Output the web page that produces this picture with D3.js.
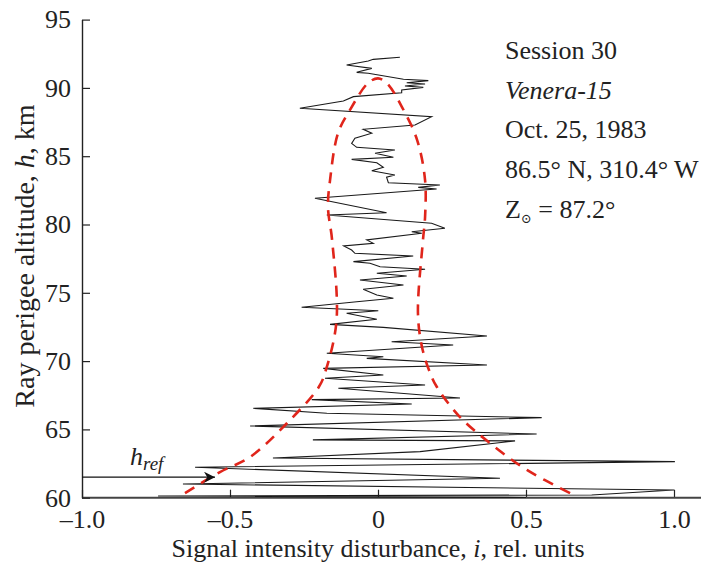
<!DOCTYPE html>
<html>
<head>
<meta charset="utf-8">
<script src="https://cdn.jsdelivr.net/npm/d3@7"></script>
<style>
  body { margin: 0; background: #fff; }
  svg text { font-family: "Liberation Serif", "DejaVu Serif", serif; fill: #222; }
</style>
</head>
<body>
<svg id="chart" width="701" height="566"></svg>
<script>
// axis ticks
var xTicks = [-1, -0.5, 0, 0.5, 1];
var xTickLabels = ['\u20131.0', '\u20130.5', '0', '0.5', '1.0'];
var yTicks = [60, 65, 70, 75, 80, 85, 90, 95];

// measured signal, i (rel. units) against perigee altitude h (km)
var traceI = [0.074, -0.016, -0.033, -0.106, -0.021, -0.072, -0.033, 0.086, 0.170, 0.097,
  0.159, 0.091, 0.153, 0.080, 0.080, -0.083, -0.117, -0.264, 0.181, 0.125,
  -0.050, -0.021, -0.078, -0.089, -0.072, 0.057, -0.010, 0.052, -0.089, -0.004,
  0.018, -0.021, 0.057, 0.029, 0.035, 0.209, 0.136, 0.198, -0.213, 0.029,
  -0.173, 0.181, 0.226, 0.114, 0.148, -0.038, -0.016, -0.116, -0.089, -0.078,
  0.119, -0.083, -0.027, 0.007, 0.159, -0.004, 0.097, -0.061, 0.086, -0.050,
  -0.004, 0.052, -0.072, -0.258, 0.001, -0.106, -0.004, -0.162, 0.018, 0.368,
  0.046, 0.254, -0.173, 0.018, -0.038, 0.368, -0.185, 0.018, -0.179, 0.159,
  -0.134, 0.277, -0.224, 0.114, -0.421, -0.173, 0.553, -0.432, 0.536, -0.220,
  0.463, 0.142, -0.355, 1.003, -0.618, 0.412, -0.659, 1.0, 0.722, -0.743, 0.5];
var traceH = [92.24, 92.09, 91.97, 91.68, 91.43, 91.14, 91.07, 90.63, 90.53, 90.38,
  90.29, 90.14, 90.04, 89.85, 89.65, 89.36, 89.04, 88.51, 87.89, 87.28,
  86.97, 86.68, 86.31, 85.94, 85.65, 85.45, 85.21, 84.92, 84.77, 84.52,
  84.19, 83.94, 83.62, 83.46, 83.06, 82.89, 82.72, 82.60, 81.92, 80.86,
  80.70, 80.09, 79.72, 79.47, 79.36, 78.87, 78.62, 78.43, 78.13, 77.89,
  77.69, 77.28, 77.16, 76.91, 76.72, 76.43, 76.23, 75.94, 75.57, 75.26,
  74.84, 74.60, 74.35, 73.94, 73.69, 73.50, 73.06, 72.69, 72.47, 71.84,
  71.42, 71.18, 70.57, 70.32, 70.20, 69.71, 69.47, 68.98, 68.74, 68.25,
  68.01, 67.30, 67.18, 66.86, 66.54, 66.18, 65.86, 65.25, 64.66, 64.23,
  64.16, 63.37, 62.91, 62.64, 62.23, 61.42, 61.00, 60.56, 60.20, 60.12, 60.02];

// red dashed envelope
var envI = [-0.652, -0.534, -0.432, -0.307, -0.200, -0.176, -0.140, -0.155, -0.169, -0.162,
  -0.135, -0.095, -0.034, 0.0, 0.030, 0.081, 0.132, 0.159, 0.159, 0.152,
  0.135, 0.149, 0.176, 0.199, 0.277, 0.378, 0.503, 0.649];
var envH = [60.34, 61.88, 62.98, 65.47, 68.1, 69.35, 73.0, 78.85, 81.27, 83.25,
  86.69, 88.37, 90.35, 90.7, 90.35, 88.6, 86.2, 83.25, 80.55, 78.87,
  73.5, 71.0, 69.13, 68.1, 65.9, 64.0, 62.03, 60.34];

var hRef = 61.5;
var notes = ['Session 30', 'Venera-15', 'Oct. 25, 1983', '86.5\u00b0 N, 310.4\u00b0 W'];

var svg = d3.select('#chart');
var x = d3.scaleLinear().domain([-1, 1]).range([82, 674]);
var y = d3.scaleLinear().domain([60, 95]).range([497.7, 19.6]);

// axes, ticks point inwards
var gx = svg.append('g').attr('transform', 'translate(0,' + y(60) + ')')
  .call(d3.axisBottom(x).tickValues(xTicks)
    .tickFormat(function (d, i) { return xTickLabels[i]; })
    .tickSize(-8).tickPadding(12));
gx.select('.domain').remove();
gx.selectAll('text').style('font-size', '26px');
gx.selectAll('line').attr('stroke', '#222').attr('stroke-width', 1.2);
svg.append('line')
  .attr('x1', x(-1)).attr('x2', 701).attr('y1', y(60)).attr('y2', y(60))
  .attr('stroke', '#444').attr('stroke-width', 2);

var gy = svg.append('g').attr('transform', 'translate(' + x(-1) + ',0)')
  .call(d3.axisLeft(y).tickValues(yTicks).tickSize(-8).tickSizeOuter(0).tickPadding(11));
gy.select('.domain').attr('stroke', '#222').attr('stroke-width', 1.4);
gy.selectAll('text').style('font-size', '26px');
gy.selectAll('line').attr('stroke', '#222').attr('stroke-width', 1.2);

// axis titles
var xt = svg.append('text').attr('x', 378).attr('y', 557)
  .attr('text-anchor', 'middle').style('font-size', '26px');
xt.append('tspan').text('Signal intensity disturbance, ');
xt.append('tspan').style('font-style', 'italic').text('i');
xt.append('tspan').text(', rel. units');

var yt = svg.append('text').attr('transform', 'translate(34,256) rotate(-90)')
  .attr('text-anchor', 'middle').style('font-size', '28px');
yt.append('tspan').text('Ray perigee altitude, ');
yt.append('tspan').style('font-style', 'italic').text('h');
yt.append('tspan').text(', km');

// data
var line = d3.line().x(function (d) { return x(d[0]); }).y(function (d) { return y(d[1]); });

svg.append('path')
  .datum(traceI.map(function (v, k) { return [v, traceH[k]]; }))
  .attr('d', line)
  .attr('fill', 'none').attr('stroke', '#1a1a1a').attr('stroke-width', 1.1)
  .attr('stroke-linejoin', 'miter');

svg.append('path')
  .datum(envI.map(function (v, k) { return [v, envH[k]]; }))
  .attr('d', line.curve(d3.curveCatmullRom))
  .attr('fill', 'none').attr('stroke', '#e0251b').attr('stroke-width', 2.6)
  .attr('stroke-dasharray', '11,8');

// h_ref arrow
svg.append('defs').append('marker')
  .attr('id', 'arr').attr('viewBox', '0 0 10 10').attr('refX', 10).attr('refY', 5)
  .attr('markerWidth', 16).attr('markerHeight', 11).attr('markerUnits', 'userSpaceOnUse')
  .attr('orient', 'auto')
  .append('path').attr('d', 'M0,0 L10,5 L0,10 L3,5 Z').attr('fill', '#111');
svg.append('line')
  .attr('x1', x(-1)).attr('x2', 215).attr('y1', y(hRef)).attr('y2', y(hRef))
  .attr('stroke', '#111').attr('stroke-width', 1.2).attr('marker-end', 'url(#arr)');
var hr = svg.append('text').attr('x', 130).attr('y', 465)
  .style('font-size', '26px').style('font-style', 'italic');
hr.append('tspan').text('h');
hr.append('tspan').attr('dy', 5).style('font-size', '19px').text('ref');

// session notes
svg.selectAll('text.note').data(notes).enter().append('text')
  .attr('class', 'note')
  .attr('x', 505).attr('y', function (d, k) { return 59 + k * 39.7; })
  .style('font-size', '26px')
  .style('font-style', function (d, k) { return k === 1 ? 'italic' : 'normal'; })
  .text(function (d) { return d; });
var zt = svg.append('text').attr('x', 505).attr('y', 218).style('font-size', '26px');
zt.append('tspan').text('Z');
zt.append('tspan').attr('dy', 5).style('font-size', '13px').text('\u2299');
zt.append('tspan').attr('dy', -5).text(' = 87.2\u00b0');
</script>
</body>
</html>
